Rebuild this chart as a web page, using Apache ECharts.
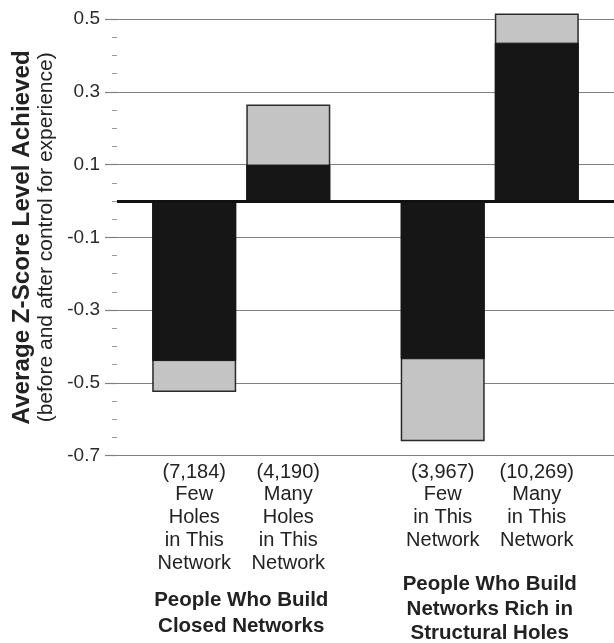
<!DOCTYPE html>
<html>
<head>
<meta charset="utf-8">
<script src="https://cdn.jsdelivr.net/npm/echarts@6/dist/echarts.min.js"></script>
<style>
html,body{margin:0;padding:0;background:#fff;}
#chart{width:614px;height:643px;}
</style>
</head>
<body>
<div id="chart"></div>
<script>
// ---- data ----
const groupKeys = ['Closed', 'Rich'];
const groupNames = ['People Who Build\nClosed Networks', 'People Who Build\nNetworks Rich in\nStructural Holes'];
const counts = ['(7,184)', '(4,190)', '(3,967)', '(10,269)'];
const barLabels = [
  ['Few', 'Holes', 'in This', 'Network'],
  ['Many', 'Holes', 'in This', 'Network'],
  ['Few', 'in This', 'Network'],
  ['Many', 'in This', 'Network']
];
// bar order: Closed-Few, Closed-Many, Rich-Few, Rich-Many
const beforeControl = [-0.525, 0.265, -0.66, 0.515];
const afterControl = [-0.44, 0.1, -0.435, 0.435];
const yTicks = ['-0.7', '-0.5', '-0.3', '-0.1', '0.1', '0.3', '0.5'];

// ---- build ----
const pick = (arr, k) => groupKeys.map((_, g) => arr[2 * g + k]);
const FONT = '"Liberation Sans", Arial, sans-serif';

function buildLabel(g) {
  const a = 2 * g, b = 2 * g + 1;
  const lines = [`{c|${counts[a]}}{c|${counts[b]}}`];
  const n = Math.max(barLabels[a].length, barLabels[b].length);
  for (let i = 0; i < n; i++) {
    lines.push(`{c|${barLabels[a][i] || ' '}}{c|${barLabels[b][i] || ' '}}`);
  }
  lines.push(`{sp${g}| }`);
  groupNames[g].split('\n').forEach(t => lines.push(`{g${g}|${t}}`));
  return lines.join('\n');
}

const chart = echarts.init(document.getElementById('chart'), null, {renderer: 'canvas'});

const greyStyle = {color: '#c4c4c4', borderColor: '#2a2a2a', borderWidth: 1.5};
const blackStyle = {color: '#161616', borderColor: '#161616', borderWidth: 1};

const option = {
  animation: false,
  backgroundColor: '#fff',
  grid: {left: 117, right: 0, top: 19, bottom: 187.3, containLabel: false, outerBoundsMode: 'none'},
  xAxis: [
    {
      type: 'category',
      data: groupKeys,
      position: 'bottom',
      axisLine: {show: false},
      axisTick: {show: false},
      splitLine: {show: false},
      axisLabel: {
        margin: 5,
        interval: 0,
        formatter: (v, i) => buildLabel(i),
        rich: {
          c: {width: 94, align: 'center', fontSize: 20, lineHeight: 22.8, color: '#222', fontFamily: FONT},
          sp0: {fontSize: 4, lineHeight: 12.3, height: 12.3},
          sp1: {fontSize: 4, lineHeight: 20.3, height: 20.3},
          g0: {width: 188, align: 'center', fontSize: 20.5, fontWeight: 'bold', lineHeight: 26, color: '#222', fontFamily: FONT},
          g1: {width: 188, align: 'center', fontSize: 20.5, fontWeight: 'bold', lineHeight: 24.5, color: '#222', fontFamily: FONT}
        }
      }
    },
    {
      type: 'category',
      data: groupKeys,
      show: false
    }
  ],
  yAxis: {
    type: 'value',
    min: -0.7,
    max: 0.5,
    interval: 0.2,
    name: '{t|Average Z-Score Level Achieved}\n{s|(before and after control for experience)}',
    nameLocation: 'middle',
    nameRotate: 90,
    nameGap: 60,
    nameTextStyle: {
      rich: {
        t: {fontSize: 24.2, fontWeight: 'bold', lineHeight: 26, color: '#222', fontFamily: FONT},
        s: {fontSize: 21, lineHeight: 22, color: '#222', fontFamily: FONT}
      }
    },
    axisLine: {show: false},
    axisTick: {show: true, length: 12, lineStyle: {color: '#808080', width: 1.2}},
    minorTick: {show: true, splitNumber: 4, length: 5, lineStyle: {color: '#9a9a9a', width: 1}},
    splitLine: {show: true, lineStyle: {color: '#808080', width: 1.2}},
    axisLabel: {
      margin: 17,
      fontSize: 19,
      color: '#2a2a2a',
      fontFamily: FONT,
      formatter: v => yTicks.find(t => Math.abs(parseFloat(t) - v) < 1e-6) || ''
    }
  },
  series: [
    {name: 'Few (before)', type: 'bar', xAxisIndex: 0, data: pick(beforeControl, 0), barWidth: 84, barGap: '12%', clip: false, itemStyle: greyStyle},
    {name: 'Many (before)', type: 'bar', xAxisIndex: 0, data: pick(beforeControl, 1), barWidth: 84, barGap: '12%', clip: false, itemStyle: greyStyle},
    {name: 'Few (after)', type: 'bar', xAxisIndex: 1, data: pick(afterControl, 0), barWidth: 84, barGap: '12%', clip: false, itemStyle: blackStyle},
    {name: 'Many (after)', type: 'bar', xAxisIndex: 1, data: pick(afterControl, 1), barWidth: 84, barGap: '12%', clip: false, itemStyle: blackStyle,
      markLine: {
        silent: true,
        symbol: ['none', 'none'],
        label: {show: false},
        lineStyle: {color: '#111', width: 3, type: 'solid'},
        data: [{yAxis: 0}]
      }
    }
  ]
};
chart.setOption(option);
</script>
</body>
</html>
